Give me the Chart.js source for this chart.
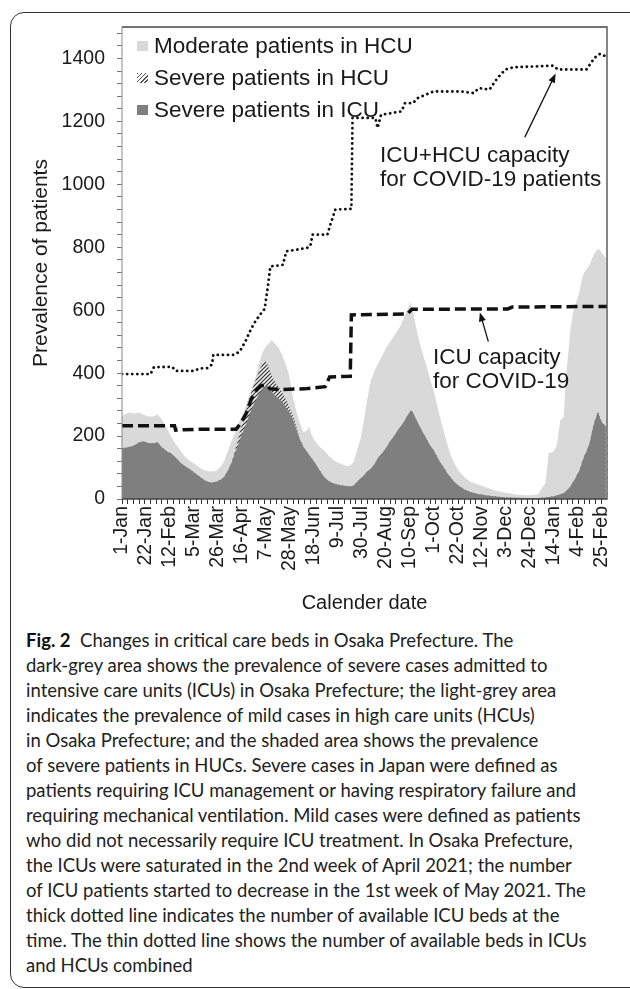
<!DOCTYPE html>
<html>
<head>
<meta charset="utf-8">
<script src="https://cdn.jsdelivr.net/npm/chart.js@4.4.1/dist/chart.umd.min.js"></script>
<style>
  html, body { margin: 0; padding: 0; background: #fff; }
  body { width: 630px; height: 989px; position: relative; overflow: hidden;
         font-family: 'Liberation Sans', Arial, sans-serif; color: #1a1a1a; }
  .frame { position: absolute; left: 10px; top: 12px; width: 650px; height: 976px;
           border: 1.5px solid #333; border-radius: 14px; box-sizing: border-box; }
  #chartBox { position: absolute; left: 0; top: 0; width: 630px; height: 625px; }
  .legend { position: absolute; left: 137px; top: 30px; font-size: 22.5px; }
  .legend .row { height: 32px; display: flex; align-items: center; }
  .legend .sw { width: 11px; height: 10px; margin-right: 6px; }
  .note { position: absolute; font-size: 22.5px; line-height: 24px; white-space: pre; }
  .caption { position: absolute; left: 26px; top: 628px; font-family: Lato, sans-serif;
             font-size: 18.5px; line-height: 25px; white-space: pre; color: #222; }
  .caption b { color: #111; }
</style>
</head>
<body>
<div class="frame"></div>
<div id="chartBox"><canvas id="bedsChart" width="630" height="625"></canvas></div>

<div class="legend">
  <div class="row"><span class="sw" style="background:#d9d9d9"></span>Moderate patients in HCU</div>
  <div class="row"><span class="sw" style="background:repeating-linear-gradient(135deg,#555 0 1px,#fff 1px 3px)"></span>Severe patients in HCU</div>
  <div class="row"><span class="sw" style="background:#7f7f7f"></span>Severe patients in ICU</div>
</div>
<div class="note" style="left:380px; top:143px;">ICU+HCU capacity
for COVID-19 patients</div>
<div class="note" style="left:433px; top:345px;">ICU capacity
for COVID-19</div>

<div class="caption"><b>Fig. 2</b>  Changes in critical care beds in Osaka Prefecture. The
dark-grey area shows the prevalence of severe cases admitted to
intensive care units (ICUs) in Osaka Prefecture; the light-grey area
indicates the prevalence of mild cases in high care units (HCUs)
in Osaka Prefecture; and the shaded area shows the prevalence
of severe patients in HUCs. Severe cases in Japan were defined as
patients requiring ICU management or having respiratory failure and
requiring mechanical ventilation. Mild cases were defined as patients
who did not necessarily require ICU treatment. In Osaka Prefecture,
the ICUs were saturated in the 2nd week of April 2021; the number
of ICU patients started to decrease in the 1st week of May 2021. The
thick dotted line indicates the number of available ICU beds at the
time. The thin dotted line shows the number of available beds in ICUs
and HCUs combined</div>

<script>
Chart.defaults.font.family = "'Liberation Sans', Arial, sans-serif";

// x tick labels, one every 21 days from 1 Jan 2021
const tickLabels = ['1-Jan', '22-Jan', '12-Feb', '5-Mar', '26-Mar', '16-Apr', '7-May',
  '28-May', '18-Jun', '9-Jul', '30-Jul', '20-Aug', '10-Sep', '1-Oct', '22-Oct',
  '12-Nov', '3-Dec', '24-Dec', '14-Jan', '4-Feb', '25-Feb'];

// days since 1 Jan 2021
const days = [0, 3, 7, 11, 15, 19, 23, 27, 31, 34,
  37, 40, 43, 46, 49, 52, 55, 59, 63, 67,
  71, 75, 79, 83, 87, 90, 93, 96, 99, 102,
  105, 108, 111, 114, 117, 120, 123, 125, 127, 129,
  131, 133, 135, 137, 140, 143, 146, 148, 150, 153,
  156, 159, 162, 164, 166, 169, 173, 177, 181, 185,
  189, 193, 197, 200, 203, 206, 209, 212, 215, 218,
  221, 224, 228, 232, 236, 240, 244, 248, 251, 253,
  255, 258, 261, 264, 267, 270, 273, 276, 279, 282,
  285, 288, 291, 295, 300, 305, 312, 320, 328, 336,
  344, 352, 360, 365, 368, 371, 374, 378, 381, 384,
  387, 389, 391, 393, 395, 398, 401, 403, 405, 408,
  410, 412, 414, 416, 417, 419, 421, 423, 424];

const icuSevere = [161, 163, 166, 170, 180, 183, 178, 176, 180, 168,
  158, 150, 145, 135, 124, 113, 105, 95, 85, 74,
  63, 55, 52, 56, 62, 72, 92, 115, 145, 175,
  205, 232, 262, 290, 312, 333, 350, 357, 362, 352,
  342, 332, 325, 320, 310, 295, 278, 265, 251, 220,
  188, 165, 150, 140, 130, 115, 92, 70, 57, 50,
  46, 43, 41, 40, 43, 55, 65, 75, 88, 95,
  110, 128, 145, 166, 188, 209, 230, 251, 270, 282,
  275, 251, 230, 209, 190, 170, 156, 135, 115, 100,
  82, 68, 55, 42, 30, 22, 16, 11, 8, 5,
  4, 3, 3, 3, 4, 5, 6, 8, 11, 15,
  18, 25, 32, 40, 52, 71, 92, 115, 135, 160,
  180, 215, 245, 265, 278, 255, 241, 235, 230];

const hcuSevere = [0, 0, 0, 0, 0, 0, 0, 0, 0, 0,
  0, 0, 0, 0, 0, 0, 0, 0, 0, 0,
  0, 0, 0, 0, 0, 0, 0, 0, 8, 20,
  30, 40, 50, 58, 65, 72, 80, 85, 70, 60,
  52, 46, 42, 38, 30, 25, 20, 15, 12, 6,
  0, 0, 0, 0, 0, 0, 0, 0, 0, 0,
  0, 0, 0, 0, 0, 0, 0, 0, 0, 0,
  0, 0, 0, 0, 0, 0, 0, 0, 0, 0,
  0, 0, 0, 0, 0, 0, 0, 0, 0, 0,
  0, 0, 0, 0, 0, 0, 0, 0, 0, 0,
  0, 0, 0, 0, 0, 0, 0, 0, 0, 0,
  0, 0, 0, 0, 0, 0, 0, 0, 0, 0,
  0, 0, 0, 0, 0, 0, 0, 0, 0];

const hcuModerate = [101, 107, 109, 102, 95, 85, 84, 86, 88, 90,
  83, 70, 53, 45, 42, 37, 30, 27, 29, 28,
  30, 33, 35, 34, 43, 52, 63, 70, 56, 45,
  27, 18, 13, 4, 8, 25, 35, 36, 56, 83,
  112, 119, 123, 124, 120, 112, 102, 80, 57, 49,
  52, 47, 68, 90, 75, 70, 74, 85, 81, 75,
  70, 67, 64, 66, 75, 101, 125, 175, 232, 280,
  295, 300, 310, 319, 317, 318, 320, 334, 340, 343,
  320, 289, 265, 246, 231, 210, 189, 165, 140, 115,
  93, 72, 60, 48, 40, 33, 30, 25, 18, 15,
  11, 9, 9, 13, 31, 45, 139, 142, 159, 235,
  242, 360, 428, 500, 538, 554, 568, 585, 585, 575,
  565, 550, 535, 525, 517, 535, 539, 535, 535];

// ICU capacity (thick dashed)
const icuCapDays = [0, 46, 47, 72, 100, 104, 109, 113, 118, 122,
  126, 130, 138, 160, 178, 182, 200, 201, 250, 254,
  338, 342, 425];
const icuCapBeds = [233, 233, 219, 222, 222, 240, 273, 315, 347, 360,
  362, 350, 348, 350, 357, 388, 390, 585, 588, 603,
  604, 610, 612];

// ICU+HCU capacity (thin dotted)
const totalCapDays = [0, 25, 28, 44, 47, 63, 68, 75, 79, 80,
  98, 103, 108, 112, 116, 121, 125, 128, 130, 141,
  144, 162, 165, 167, 180, 183, 187, 201, 202, 222,
  224, 227, 245, 248, 255, 259, 266, 273, 298, 308,
  313, 322, 329, 336, 343, 378, 382, 407, 414, 419, 425];
const totalCapBeds = [397, 397, 419, 420, 407, 407, 415, 416, 428, 458,
  458, 468, 500, 532, 560, 586, 604, 680, 739, 744,
  787, 798, 803, 840, 840, 877, 920, 922, 1211, 1211,
  1179, 1221, 1232, 1258, 1258, 1274, 1285, 1295, 1295, 1290,
  1306, 1301, 1338, 1365, 1372, 1377, 1365, 1365, 1402, 1415, 1405];

// arrows for the two capacity notes (day, patients)
const arrowNotes = [
  { from: [353, 1150], to: [380, 1352] },
  { from: [321, 500], to: [313.6, 593] }
];

function toPoints(xs, ys) {
  return xs.map((x, i) => ({ x: x, y: ys[i] }));
}

function hatchPattern() {
  const c = document.createElement('canvas');
  c.width = 4; c.height = 4;
  const g = c.getContext('2d');
  g.fillStyle = '#eeeeee';
  g.fillRect(0, 0, 4, 4);
  g.strokeStyle = '#333';
  g.lineWidth = 1.2;
  g.beginPath();
  g.moveTo(-1, 5); g.lineTo(5, -1);
  g.moveTo(-1, 1); g.lineTo(1, -1);
  g.moveTo(3, 5); g.lineTo(5, 3);
  g.stroke();
  return g.createPattern(c, 'repeat');
}

// box round the plot area
const framePlugin = {
  id: 'frame',
  afterDatasetsDraw(chart) {
    const { ctx, chartArea: a } = chart;
    ctx.save();
    ctx.strokeStyle = '#444';
    ctx.lineWidth = 1.3;
    ctx.beginPath();
    ctx.moveTo(a.left, a.top);
    ctx.lineTo(a.right, a.top);
    ctx.lineTo(a.right, a.bottom);
    ctx.lineTo(a.left, a.bottom);
    ctx.stroke();
    ctx.strokeStyle = '#8a8a8a';
    ctx.lineWidth = 1;
    ctx.beginPath();
    ctx.moveTo(a.left, a.top);
    ctx.lineTo(a.left, a.bottom);
    ctx.stroke();
    ctx.restore();
  }
};

const arrowPlugin = {
  id: 'arrows',
  afterDatasetsDraw(chart) {
    const { ctx } = chart;
    const sx = chart.scales.x, sy = chart.scales.y;
    ctx.save();
    ctx.strokeStyle = '#111';
    ctx.fillStyle = '#111';
    ctx.lineWidth = 1.3;
    arrowNotes.forEach(n => {
      const x1 = sx.getPixelForValue(n.from[0]), y1 = sy.getPixelForValue(n.from[1]);
      const x2 = sx.getPixelForValue(n.to[0]), y2 = sy.getPixelForValue(n.to[1]);
      const ang = Math.atan2(y2 - y1, x2 - x1);
      ctx.beginPath();
      ctx.moveTo(x1, y1);
      ctx.lineTo(x2 - 6 * Math.cos(ang), y2 - 6 * Math.sin(ang));
      ctx.stroke();
      ctx.beginPath();
      ctx.moveTo(x2, y2);
      ctx.lineTo(x2 - 9 * Math.cos(ang) + 3.5 * Math.sin(ang), y2 - 9 * Math.sin(ang) - 3.5 * Math.cos(ang));
      ctx.lineTo(x2 - 9 * Math.cos(ang) - 3.5 * Math.sin(ang), y2 - 9 * Math.sin(ang) + 3.5 * Math.cos(ang));
      ctx.closePath();
      ctx.fill();
    });
    ctx.restore();
  }
};

const ctx = document.getElementById('bedsChart').getContext('2d');

new Chart(ctx, {
  type: 'line',
  data: {
    datasets: [
      {
        label: 'Severe patients in ICU',
        data: toPoints(days, icuSevere),
        backgroundColor: '#7f7f7f',
        borderWidth: 0,
        fill: 'origin',
        order: 1
      },
      {
        label: 'Severe patients in HCU',
        data: toPoints(days, hcuSevere),
        backgroundColor: hatchPattern(),
        borderWidth: 0,
        fill: 'origin',
        order: 1
      },
      {
        label: 'Moderate patients in HCU',
        data: toPoints(days, hcuModerate),
        backgroundColor: '#d9d9d9',
        borderWidth: 0,
        fill: 'origin',
        order: 1
      },
      {
        label: 'ICU capacity',
        data: toPoints(icuCapDays, icuCapBeds),
        borderColor: '#111',
        borderWidth: 3.5,
        borderDash: [11, 5],
        fill: false,
        stack: 'icuCap',
        order: 0
      },
      {
        label: 'ICU+HCU capacity',
        data: toPoints(totalCapDays, totalCapBeds),
        borderColor: '#111',
        borderWidth: 2.8,
        borderDash: [0.1, 5],
        borderCapStyle: 'round',
        fill: false,
        stack: 'totalCap',
        order: 0
      }
    ]
  },
  options: {
    responsive: false,
    animation: false,
    layout: { padding: { left: 0, top: 27, right: 23, bottom: 0 } },
    elements: { point: { radius: 0 }, line: { tension: 0 } },
    plugins: {
      legend: { display: false },
      tooltip: { enabled: false }
    },
    scales: {
      x: {
        type: 'linear',
        min: 0,
        max: 425,
        afterBuildTicks: scale => {
          const t = [];
          for (let d = 0; d <= 424; d++) {
            if (d % 5 === 0 || d % 21 === 0) t.push({ value: d });
          }
          scale.ticks = t;
        },
        afterFit: scale => { scale.height = 126; },
        border: { display: false },
        grid: {
          drawOnChartArea: false,
          tickLength: 5,
          color: c => (c.tick && c.tick.value % 5 === 0) ? '#333' : 'rgba(0,0,0,0)'
        },
        ticks: {
          autoSkip: false,
          minRotation: 90,
          maxRotation: 90,
          padding: 2,
          color: '#1a1a1a',
          font: { size: 19.5 },
          callback: v => v % 21 === 0 ? tickLabels[v / 21] : ''
        },
        title: {
          display: true,
          text: 'Calender date',
          color: '#1a1a1a',
          font: { size: 20 },
          padding: { top: 0, bottom: 10 }
        }
      },
      y: {
        stacked: true,
        min: 0,
        max: 1500,
        afterBuildTicks: scale => {
          const t = [];
          for (let v = 0; v <= 1480; v += 40) t.push({ value: v });
          scale.ticks = t;
        },
        afterFit: scale => { scale.width = 122; },
        border: { display: false },
        grid: { drawOnChartArea: false, tickLength: 5, color: '#777' },
        ticks: {
          autoSkip: false,
          padding: 12,
          color: '#1a1a1a',
          font: { size: 19.5 },
          callback: v => v % 200 === 0 ? v : ''
        },
        title: {
          display: true,
          text: 'Prevalence of patients',
          color: '#1a1a1a',
          font: { size: 21 },
          padding: { top: 29, bottom: 0 }
        }
      }
    }
  },
  plugins: [framePlugin, arrowPlugin]
});
</script>
</body>
</html>
